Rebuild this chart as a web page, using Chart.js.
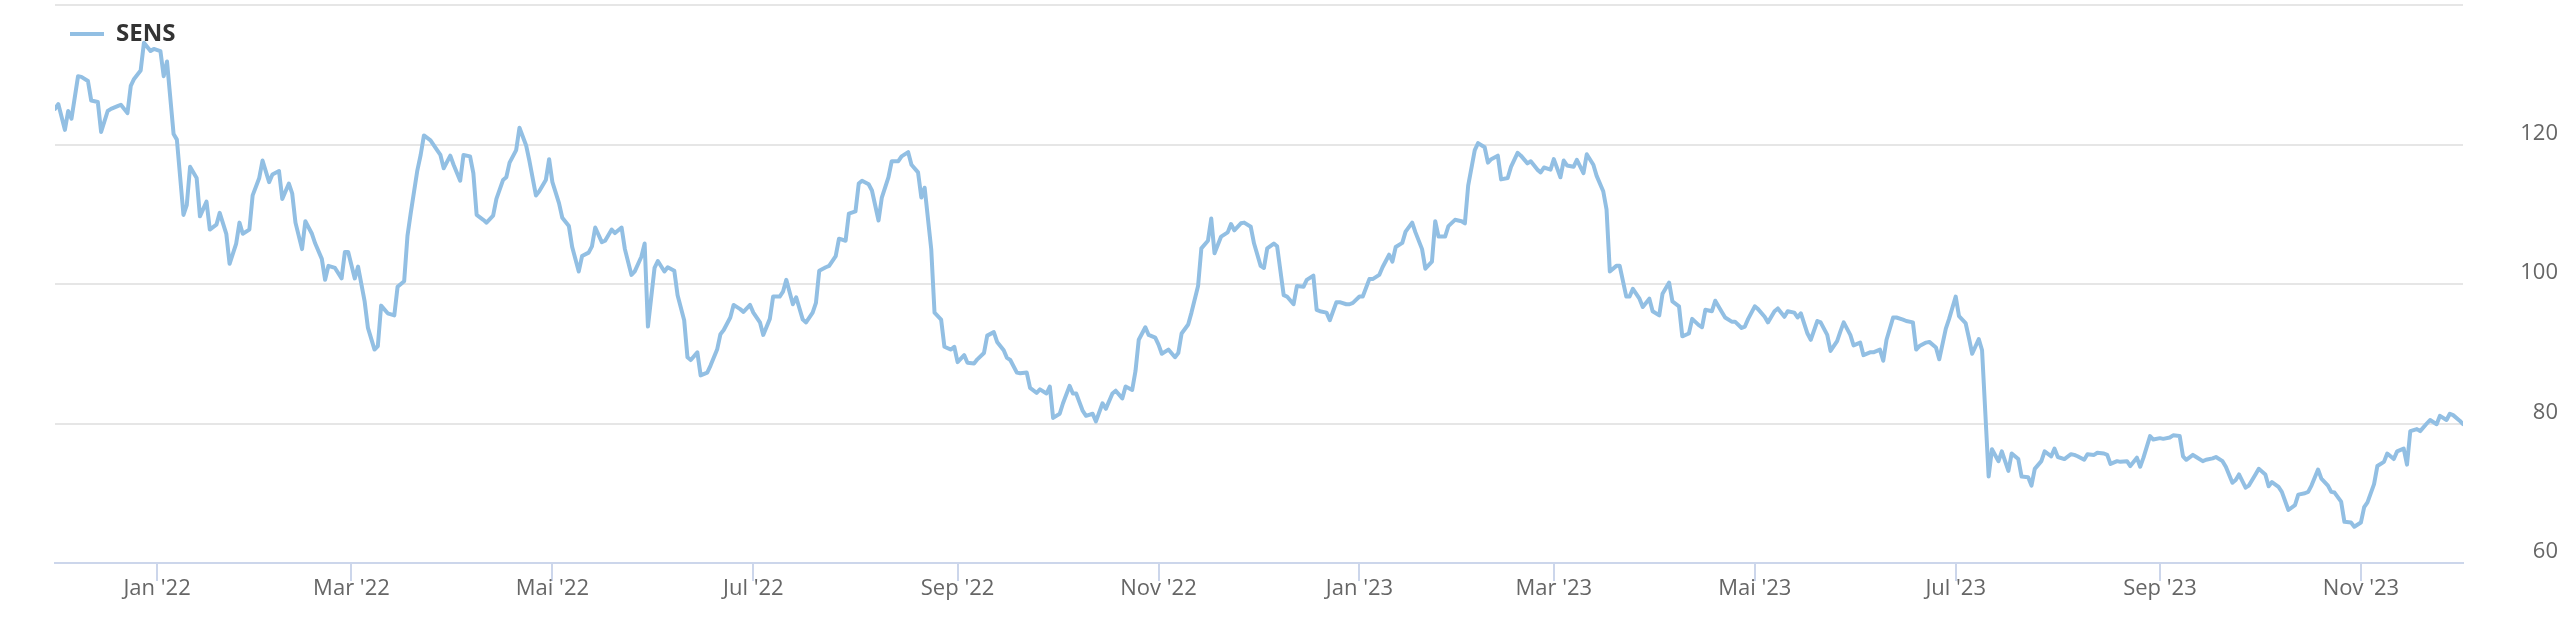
<!DOCTYPE html>
<html>
<head>
<meta charset="utf-8">
<script src="https://cdn.jsdelivr.net/npm/chart.js@4.4.1/dist/chart.umd.min.js"></script>
<style>
  html, body { margin: 0; padding: 0; background: #fff; }
  #wrap { width: 2558px; height: 642px; }
</style>
</head>
<body>
<div id="wrap"><canvas id="chart" width="2558" height="642"></canvas></div>
<script>
// ── Data ─────────────────────────────────────────────────
const seriesName = "SENS";
const startDate = "2021-12-01";   // day 0 of the series

// days after startDate
const days = [
  0, 1, 3, 4, 5, 7, 8, 10, 11, 13, 14, 16, 17, 19, 20, 22, 23, 24, 26, 27, 29, 30, 32, 33, 34, 36, 37, 39, 40, 41,
  43, 44, 46, 47, 49, 50, 52, 53, 55, 56, 57, 59, 60, 62,
  63, 65, 66, 68, 69, 71, 72, 73, 75, 76, 78, 79, 81, 82, 83, 85, 87, 88, 89, 91, 92, 94, 95, 97, 98, 99,
  101, 103, 104, 106, 107, 108, 110, 111, 112, 114, 116, 117, 118, 120, 121, 123, 124, 126, 127, 128,
  130, 131, 133, 134, 136, 137, 138, 140, 141, 143, 144, 146, 147, 149, 150, 151, 153, 154, 156, 157,
  159, 160, 162, 163, 164, 166, 167, 169, 170, 172, 173, 175, 176, 178, 179, 180, 182, 183, 185, 186,
  188, 189, 191, 192, 193, 195,
  196, 198, 199, 201, 202, 203, 205, 206, 208, 209, 211, 212, 214, 215, 217, 218, 220, 221, 222, 224,
  225, 227, 228, 230, 231, 232, 234, 235, 237, 238, 240, 241, 243, 244, 245, 247, 248, 250, 251, 253,
  254, 256, 257, 259, 260, 262,
  263, 264, 266, 267, 269, 270, 272, 273, 274, 276, 277, 279, 280, 282, 283, 285, 286, 288, 289, 290,
  292, 293, 295, 296, 298, 299, 301, 302, 303, 305, 306, 308, 309, 310, 312, 313, 315, 316, 318, 319,
  321, 322, 324, 325, 327, 328, 329,
  331, 332, 334, 335, 336, 338, 340, 341, 342, 344, 345, 347, 348, 350, 351, 352, 354, 356, 357, 358,
  360, 361, 363, 364, 366, 367, 368, 370, 371, 373, 374, 376, 377, 379, 380, 382, 383, 384, 386, 387,
  389, 390, 392, 393, 394, 396,
  397, 399, 400, 402, 403, 405, 406, 407, 409, 410, 412, 413, 415, 416, 418, 419, 420, 422, 423, 425,
  427, 428, 429, 431, 432, 434, 435, 436, 438, 439, 441, 442, 444, 445, 447, 448, 450, 451, 452, 454,
  455, 457, 458, 459, 461, 462,
  464, 465, 467, 468, 470, 471, 472, 474, 475, 477, 478, 479, 481, 482, 484, 485, 487, 488, 490, 491,
  493, 494, 496, 497, 499, 500, 501, 503, 504, 506, 507, 509, 510, 512, 513, 514, 516, 517, 519, 520,
  522, 523, 525, 526, 528, 529,
  530, 532, 533, 535, 536, 538, 539, 541, 542, 543, 545, 546, 548, 549, 551, 552, 554, 555, 556, 558,
  559, 561, 562, 564, 565, 566, 568, 569, 571, 572, 574, 575, 577, 578, 580, 581, 582, 584, 585, 587,
  588, 590, 591, 593, 594, 596,
  597, 599, 600, 601, 603, 604, 606, 607, 608, 610, 612, 613, 614, 616, 617, 619, 620, 622, 623, 624,
  626, 627, 629, 630, 632, 633, 634, 636, 637, 639, 640, 642, 643, 645, 646, 647, 649, 650, 652, 653,
  655, 656, 658, 659, 661, 662,
  663, 665, 666, 668, 669, 671, 672, 673, 675, 676, 678, 680, 681, 683, 684, 685, 687, 688, 690, 691,
  692, 694, 695, 697, 698, 700, 701, 702, 704, 705, 707, 708, 710, 711, 713, 714, 715, 717, 718, 720,
  721, 723, 724, 726, 727, 728, 730, 731
];

const values = [
  125.1, 125.8, 122.1, 124.8, 123.7, 129.8, 129.7, 129.1, 126.3, 126.1, 121.8, 124.8, 125.1, 125.5, 125.7, 124.5, 128.4, 129.4, 130.6, 134.6, 133.4, 133.7, 133.4, 129.8, 131.9, 121.5, 120.7, 109.9, 111.3, 116.8,
  115.2, 109.7, 111.8, 107.8, 108.5, 110.2, 107.2, 102.9, 105.8, 108.8, 107.2, 107.8, 112.7, 115.2,
  117.7, 114.6, 115.7, 116.2, 112.2, 114.4, 113.0, 108.8, 105.0, 109.0, 107.2, 105.8, 103.6, 100.6, 102.6, 102.3, 100.8, 104.6, 104.6, 100.8, 102.5, 97.5, 93.7, 90.6, 91.1, 96.9,
  95.8, 95.5, 99.6, 100.4, 106.9, 110.2, 116.3, 118.5, 121.3, 120.6, 119.2, 118.5, 116.6, 118.4, 117.1, 114.8, 118.5, 118.3, 115.9, 109.9,
  109.2, 108.8, 109.8, 112.2, 114.9, 115.3, 117.4, 119.2, 122.4, 119.9, 117.7, 112.7, 113.3, 114.9, 117.9, 114.6, 111.6, 109.5, 108.3, 105.3,
  101.8, 104.0, 104.5, 105.4, 108.1, 106.0, 106.2, 107.8, 107.3, 108.1, 105.0, 101.3, 101.8, 103.9, 105.8, 93.9, 102.3, 103.3, 101.8, 102.4,
  101.9, 98.4, 94.8, 89.5, 89.1, 90.2,
  86.9, 87.3, 88.3, 90.6, 92.8, 93.4, 95.2, 97.0, 96.4, 96.0, 97.0, 95.9, 94.5, 92.7, 95.0, 98.2, 98.2, 98.9, 100.6, 97.1,
  98.1, 94.9, 94.5, 95.9, 97.3, 101.9, 102.4, 102.6, 104.0, 106.5, 106.2, 110.1, 110.4, 114.4, 114.8, 114.3, 113.4, 109.1, 112.4, 115.3,
  117.6, 117.6, 118.3, 118.9, 117.1, 116.0,
  112.4, 113.8, 105.0, 95.9, 94.9, 91.0, 90.6, 91.0, 88.8, 89.8, 88.7, 88.6, 89.2, 90.1, 92.6, 93.1, 91.7, 90.5, 89.4, 89.1,
  87.3, 87.2, 87.3, 85.1, 84.4, 84.9, 84.3, 85.3, 80.8, 81.4, 82.9, 85.4, 84.3, 84.3, 81.8, 81.1, 81.4, 80.3, 82.9, 82.1,
  84.3, 84.7, 83.6, 85.3, 84.8, 87.5, 92.0,
  93.8, 92.7, 92.3, 91.3, 90.0, 90.6, 89.5, 90.1, 92.9, 94.2, 95.9, 99.7, 105.1, 106.2, 109.4, 104.4, 106.8, 107.4, 108.6, 107.7,
  108.7, 108.8, 108.2, 105.8, 102.6, 102.3, 105.1, 105.8, 105.4, 98.4, 98.2, 97.1, 99.7, 99.6, 100.6, 101.2, 96.3, 96.1, 95.9, 94.8,
  97.4, 97.4, 97.1, 97.1, 97.3, 98.2,
  98.2, 100.7, 100.7, 101.3, 102.4, 104.2, 103.2, 105.3, 105.9, 107.5, 108.8, 107.4, 105.0, 102.2, 103.2, 109.0, 106.8, 106.8, 108.3, 109.2,
  109.0, 108.7, 114.1, 119.2, 120.2, 119.6, 117.4, 117.9, 118.4, 115.0, 115.2, 116.8, 118.8, 118.4, 117.3, 117.6, 116.4, 116.0, 116.7, 116.4,
  117.9, 115.3, 117.7, 117.0, 116.8, 117.8,
  115.9, 118.6, 117.1, 115.5, 113.3, 110.7, 101.8, 102.6, 102.6, 98.2, 98.2, 99.3, 97.9, 96.7, 97.9, 96.1, 95.5, 98.6, 100.2, 97.5,
  96.8, 92.5, 92.9, 95.0, 94.1, 93.8, 96.3, 96.1, 97.6, 96.0, 95.2, 94.6, 94.6, 93.7, 93.9, 95.0, 96.8, 96.4, 95.3, 94.5,
  96.1, 96.5, 95.3, 96.1, 95.9, 95.2,
  95.8, 92.9, 92.0, 94.7, 94.5, 92.7, 90.4, 91.8, 93.2, 94.5, 92.7, 91.2, 91.6, 89.8, 90.2, 90.2, 90.6, 89.0, 92.0, 95.2,
  95.2, 94.9, 94.7, 94.5, 90.6, 91.1, 91.6, 91.7, 90.9, 89.2, 93.6, 95.0, 98.2, 95.4, 94.4, 92.3, 90.0, 92.1, 90.5, 72.4,
  76.3, 74.6, 76.0, 73.2, 75.7, 74.9,
  72.4, 72.3, 71.1, 73.5, 74.6, 76.0, 75.3, 76.4, 75.2, 74.9, 75.6, 75.5, 75.3, 74.8, 75.6, 75.5, 75.8, 75.7, 75.5, 74.2,
  74.6, 74.5, 74.6, 73.9, 75.1, 73.8, 75.1, 78.2, 77.7, 77.9, 77.8, 78.0, 78.3, 78.2, 75.3, 74.8, 75.5, 75.2, 74.6, 74.8,
  75.0, 75.2, 74.6, 73.8, 71.5, 71.9,
  72.7, 70.8, 71.1, 72.7, 73.5, 72.7, 71.0, 71.6, 70.9, 70.2, 67.6, 68.3, 69.8, 70.0, 70.2, 71.1, 73.4, 72.1, 71.1, 70.2,
  70.1, 68.8, 65.9, 65.8, 65.2, 65.8, 68.0, 68.7, 71.3, 73.9, 74.5, 75.7, 74.9, 76.0, 76.4, 74.1, 78.9, 79.2, 78.9, 80.0,
  80.5, 79.9, 81.1, 80.5, 81.4, 81.2, 80.4, 79.9
];

const tickDates = [
  "2022-01-01", "2022-03-01", "2022-05-01", "2022-07-01", "2022-09-01", "2022-11-01",
  "2023-01-01", "2023-03-01", "2023-05-01", "2023-07-01", "2023-09-01", "2023-11-01"
];
const tickLabels = [
  "Jan '22", "Mar '22", "Mai '22", "Jul '22", "Sep '22", "Nov '22",
  "Jan '23", "Mar '23", "Mai '23", "Jul '23", "Sep '23", "Nov '23"
];
const yTicks = [60, 80, 100, 120, 140];

// ── Helpers ──────────────────────────────────────────────
const DAY = 86400000;
function dayOffset(iso) {
  return Math.round((Date.parse(iso + "T00:00:00Z") - Date.parse(startDate + "T00:00:00Z")) / DAY);
}
const tickDays = tickDates.map(dayOffset);

const LINE_COLOR = "#92bfe3";
const LABEL_COLOR = "#666666";

Chart.defaults.font.family = "'Open Sans', 'DejaVu Sans', sans-serif";

new Chart(document.getElementById("chart"), {
  type: "line",
  data: {
    datasets: [{
      label: seriesName,
      data: days.map((d, i) => ({ x: d, y: values[i] })),
      borderColor: LINE_COLOR,
      backgroundColor: LINE_COLOR,
      borderWidth: 4,
      borderJoinStyle: "round",
      borderCapStyle: "round",
      pointRadius: 0,
      tension: 0,
      fill: false,
    }],
  },
  options: {
    responsive: false,
    devicePixelRatio: 1,
    animation: false,
    layout: { padding: { left: 55, top: 5, right: 0, bottom: 0 } },
    plugins: {
      tooltip: { enabled: false },
      legend: {
        position: "chartArea",
        align: "start",
        // empty title only pushes the legend item down a little
        title: { display: true, text: "", font: { size: 1, lineHeight: 1 }, padding: { top: 3, bottom: 3 } },
        labels: {
          usePointStyle: true,
          pointStyle: "line",
          pointStyleWidth: 34,
          padding: 15,
          color: "#333333",
          font: { size: 24, weight: "bold" },
        },
      },
    },
    scales: {
      x: {
        type: "linear",
        min: days[0],
        max: days[days.length - 1],
        afterBuildTicks: (s) => { s.ticks = tickDays.map((v) => ({ value: v })); },
        afterFit: (s) => { s.height = 79; s.paddingLeft = 0; s.paddingRight = 0; },
        ticks: {
          autoSkip: false,
          maxRotation: 0,
          padding: -3,
          color: LABEL_COLOR,
          font: { size: 22, lineHeight: 1 },
          callback: (v, i) => tickLabels[i],
        },
        grid: { drawOnChartArea: false, drawTicks: true, tickLength: 18, color: "#ccd6eb", lineWidth: 2 },
        border: { color: "#ccd6eb", width: 2 },
      },
      y: {
        type: "linear",
        position: "right",
        min: 60,
        max: 140,
        afterBuildTicks: (s) => { s.ticks = yTicks.map((v) => ({ value: v })); },
        afterFit: (s) => { s.width = 95; s.paddingTop = 0; s.paddingBottom = 0; },
        ticks: {
          padding: 13,
          crossAlign: "far",
          labelOffset: -11,
          color: LABEL_COLOR,
          font: { size: 22 },
          callback: (v) => (v === 140 ? "" : v),
        },
        grid: { color: "#e6e6e6", lineWidth: 2, drawTicks: false },
        border: { display: false },
      },
    },
  },
});
</script>
</body>
</html>
